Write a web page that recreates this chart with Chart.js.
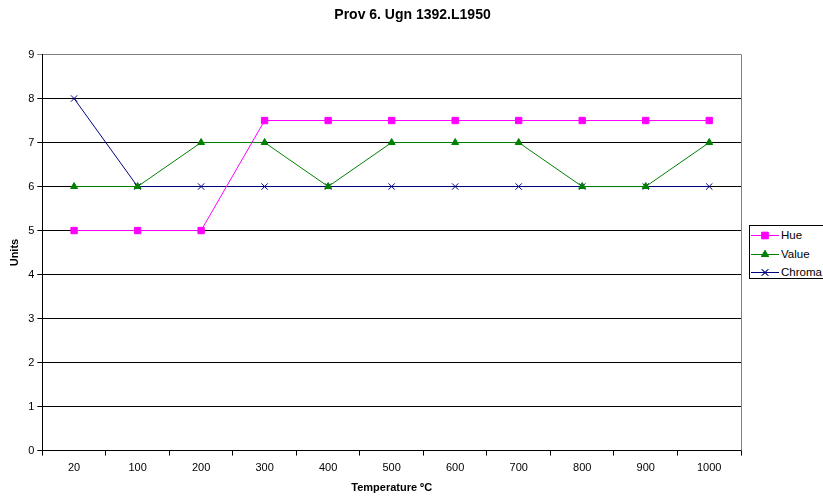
<!DOCTYPE html>
<html>
<head>
<meta charset="utf-8">
<script src="https://cdn.jsdelivr.net/npm/chart.js@4"></script>
<style>
  html, body { margin: 0; padding: 0; background: #fff; }
  #wrap { position: relative; width: 823px; height: 497px; overflow: hidden; }
  #legend {
    position: absolute; left: 749px; top: 225px; width: 80px; height: 52px;
    border: 1px solid #000; background: #fff;
    font: 11.5px "Liberation Sans", Arial, sans-serif; color: #000;
  }
  #legend .row { position: absolute; left: 1px; height: 14px; line-height: 14px; }
  #legend canvas { position: absolute; left: 0; top: 0; }
  #legend span { position: absolute; left: 30px; white-space: nowrap; }
</style>
</head>
<body>
<div id="wrap">
  <canvas id="chart" width="823" height="497"></canvas>
  <div id="legend"></div>
</div>
<script>
/* 데이터 */
const temperatures = ['20', '100', '200', '300', '400', '500', '600', '700', '800', '900', '1000'];
const hue    = [5, 5, 5, 7.5, 7.5, 7.5, 7.5, 7.5, 7.5, 7.5, 7.5];
const value  = [6, 6, 7, 7, 6, 7, 7, 7, 6, 6, 7];
const chroma = [8, 6, 6, 6, 6, 6, 6, 6, 6, 6, 6];

const FONT = '"Liberation Sans", Arial, sans-serif';

const seriesList = [
  { label: 'Hue',    data: hue,    color: '#FF00FF', style: 'rect',     r: 4.5 },
  { label: 'Value',  data: value,  color: '#008000', style: 'triangle', r: 4 },
  { label: 'Chroma', data: chroma, color: '#000080', style: 'crossRot', r: 4.5 },
];

/* 오른쪽 테두리 */
const rightBorder = {
  id: 'rightBorder',
  afterDraw(chart) {
    const { ctx, chartArea: a } = chart;
    ctx.save();
    ctx.strokeStyle = '#808080';
    ctx.lineWidth = 1;
    ctx.beginPath();
    ctx.moveTo(Math.round(a.right) + 0.5, a.top);
    ctx.lineTo(Math.round(a.right) + 0.5, a.bottom);
    ctx.stroke();
    ctx.restore();
  }
};

const titlePad = { top: 7, bottom: 24 };
const xTitlePad = { top: 1, bottom: 0 };

const chart = new Chart(document.getElementById('chart'), {
  type: 'line',
  data: {
    labels: temperatures,
    datasets: seriesList.map(s => ({
      label: s.label,
      data: s.data,
      borderColor: s.color,
      backgroundColor: s.color,
      borderWidth: 1,
      pointStyle: s.style,
      pointRadius: s.r,
      pointBorderWidth: 1,
      pointBorderColor: s.color,
      pointBackgroundColor: s.color,
      tension: 0,
    }))
  },
  options: {
    responsive: false,
    animation: false,
    layout: { padding: { left: 2, right: 0, top: 0, bottom: 2 } },
    plugins: {
      legend: { display: false },
      tooltip: { enabled: false },
      title: {
        display: true,
        text: 'Prov 6. Ugn 1392.L1950',
        color: '#000',
        font: { family: FONT, size: 14, weight: 'bold' },
        padding: titlePad,
      },
    },
    scales: {
      x: {
        offset: true,
        grid: { offset: true, drawOnChartArea: false, drawTicks: true, tickLength: 5, color: '#000' },
        border: { color: '#000' },
        ticks: { color: '#000', font: { family: FONT, size: 11 }, padding: 6, maxRotation: 0 },
        title: { display: true, text: 'Temperature ºC', color: '#000',
                 font: { family: FONT, size: 11, weight: 'bold' }, padding: xTitlePad },
      },
      y: {
        min: 0, max: 9,
        ticks: { stepSize: 1, color: '#000', font: { family: FONT, size: 11 }, padding: 3 },
        grid: {
          color: c => c.tick && c.tick.value === 9 ? '#808080' : '#000',
          tickLength: 5,
        },
        border: { color: '#000' },
        title: { display: true, text: 'Units', color: '#000',
                 font: { family: FONT, size: 11, weight: 'bold' }, padding: { top: 6, bottom: 4 } },
      },
      /* 범례 자리 (오른쪽 빈 공간) */
      yRight: {
        position: 'right',
        min: 0, max: 9,
        ticks: { display: false },
        grid: { drawOnChartArea: false, drawTicks: false },
        border: { display: false },
        afterFit: s => { s.width = 82; },
      },
    },
  },
  plugins: [rightBorder],
});

/* 선이 격자선 위에 선명하게 놓이도록 플롯 영역을 반 픽셀에 맞춤 (54.5 ~ 450.5) */
const a = chart.chartArea;
titlePad.bottom += 54.5 - a.top;
xTitlePad.top -= 450.5 - a.bottom;
chart.update();

/* 범례 */
const legend = document.getElementById('legend');
seriesList.forEach((s, i) => {
  const row = document.createElement('div');
  row.className = 'row';
  row.style.top = (2 + i * 18.5) + 'px';
  const c = document.createElement('canvas');
  c.width = 28; c.height = 14;
  const g = c.getContext('2d');
  g.strokeStyle = s.color; g.fillStyle = s.color; g.lineWidth = 1;
  g.beginPath(); g.moveTo(0, 7.5); g.lineTo(28, 7.5); g.stroke();
  Chart.helpers.drawPoint(g, { pointStyle: s.style, radius: s.r, borderWidth: 1 }, 14, 7.5);
  g.fill(); g.stroke();
  const t = document.createElement('span');
  t.textContent = s.label;
  row.appendChild(c); row.appendChild(t);
  legend.appendChild(row);
});
</script>
</body>
</html>
